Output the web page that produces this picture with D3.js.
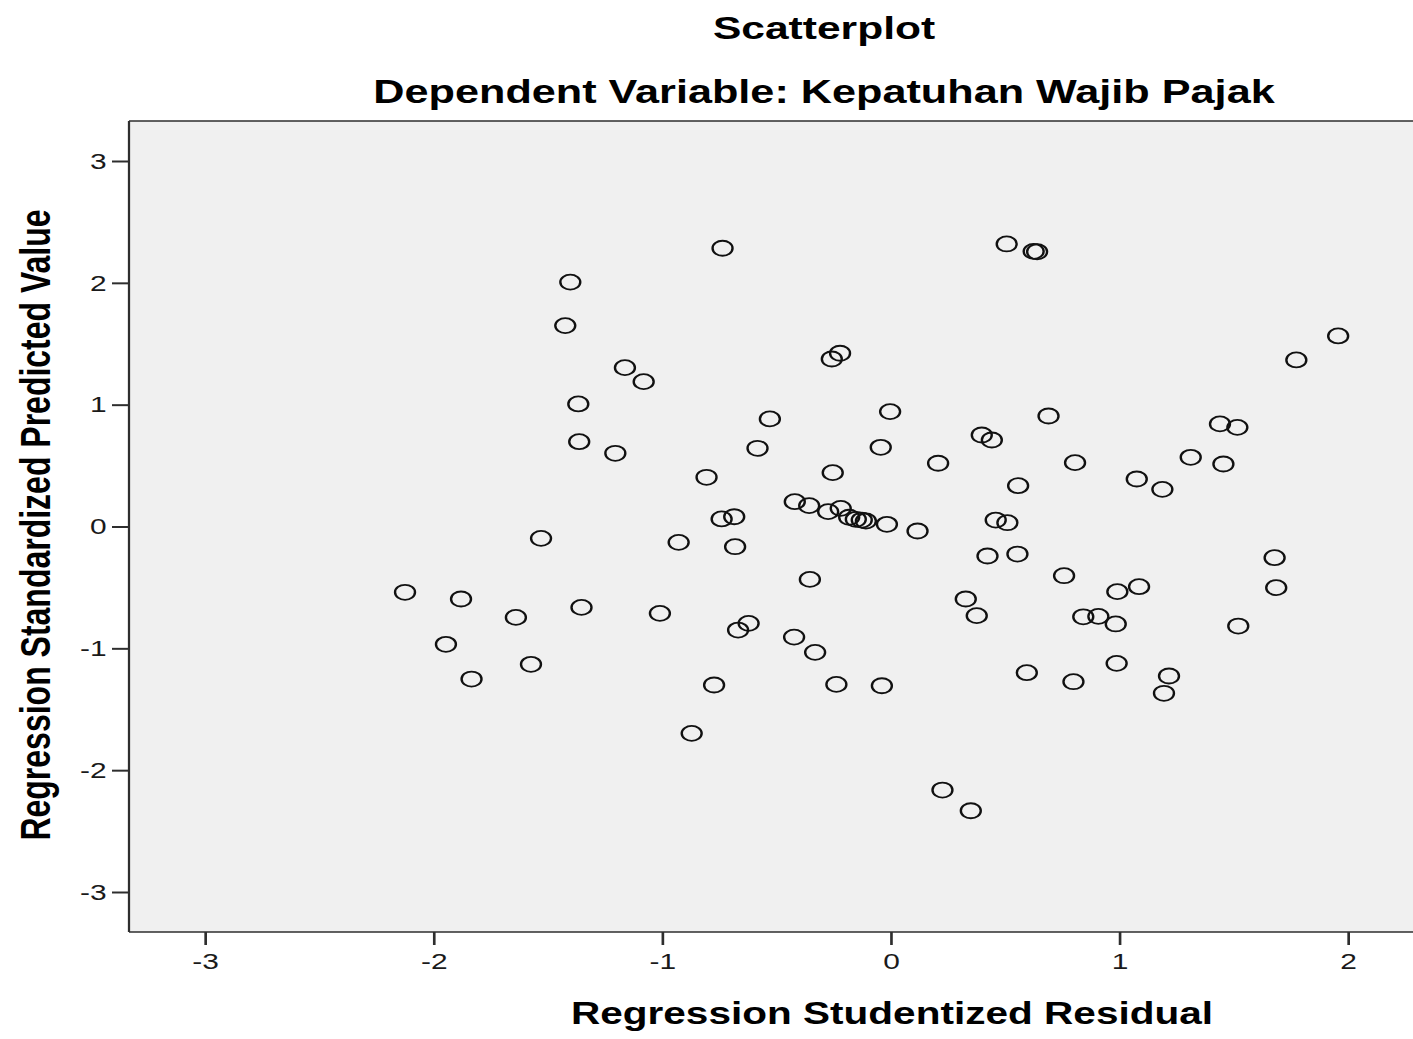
<!DOCTYPE html>
<html>
<head>
<meta charset="utf-8">
<script src="https://cdn.jsdelivr.net/npm/d3@7"></script>
<style>
  html, body { margin: 0; padding: 0; background: #fff; }
  svg { display: block; }
</style>
</head>
<body>
<svg id="chart" width="1413" height="1039"></svg>
<script>
// ---- data ----
const residuals = [
  -0.736, -1.402, -1.424, -1.163, -1.081, -1.367, -1.363, -1.205, -0.529, -0.583,
  -0.806, -0.258, -0.222, -0.003, -0.044, -0.254, 0.207, 0.398, 0.442, 0.690,
  0.806, 0.557, 1.076, -0.420, -0.357, -0.274, -0.219, -0.182, -0.153, -0.127,
  -0.109, -0.017, 0.117, -0.740, -0.685, -0.681, 0.459, 0.510, 0.423, 0.554,
  -0.354, 0.758, -2.125, -1.880, -1.640, -1.353, -1.530, -1.946, -1.834, -1.574,
  -1.010, -0.928, -0.668, -0.622, -0.773, -0.871, -0.423, -0.331, -0.238, -0.039,
  0.328, 0.376, 0.842, 0.908, 0.226, 0.350, 0.595, 0.799, 1.957, 1.774,
  1.440, 1.516, 1.312, 1.455, 1.188, 0.991, 1.086, 0.984, 1.679, 1.686,
  1.520, 0.988, 1.217, 1.195, 0.507, 0.625, 0.640
];
const predicted = [
  2.284, 2.006, 1.649, 1.304, 1.189, 1.006, 0.696, 0.601, 0.883, 0.642,
  0.404, 1.375, 1.422, 0.943, 0.650, 0.442, 0.519, 0.751, 0.710, 0.907,
  0.524, 0.335, 0.390, 0.204, 0.171, 0.122, 0.149, 0.076, 0.059, 0.053,
  0.045, 0.018, -0.037, 0.062, 0.080, -0.166, 0.053, 0.031, -0.242, -0.226,
  -0.434, -0.404, -0.540, -0.595, -0.746, -0.664, -0.097, -0.967, -1.252, -1.131,
  -0.713, -0.130, -0.850, -0.795, -1.301, -1.698, -0.908, -1.033, -1.296, -1.307,
  -0.595, -0.732, -0.741, -0.738, -2.163, -2.333, -1.200, -1.274, 1.564, 1.367,
  0.842, 0.814, 0.568, 0.513, 0.305, -0.535, -0.494, -0.800, -0.256, -0.502,
  -0.817, -1.123, -1.227, -1.369, 2.319, 2.258, 2.255
];
const xTicks = [-3, -2, -1, 0, 1, 2];
const yTicks = [-3, -2, -1, 0, 1, 2, 3];
const titleText = "Scatterplot";
const subtitleText = "Dependent Variable: Kepatuhan Wajib Pajak";
const xLabel = "Regression Studentized Residual";
const yLabel = "Regression Standardized Predicted Value";

// ---- layout ----
const sx = 1.33; // horizontal stretch of the original picture
const svg = d3.select("#chart");
const g = svg.append("g").attr("transform", `scale(${sx},1)`);

const frameLeft = 129 / sx, frameRight = 1425 / sx, frameTop = 121, frameBottom = 932;

const x = d3.scaleLinear().domain([-3, 2]).range([205 / sx, 1348 / sx]);
const y = d3.scaleLinear().domain([-3, 3]).range([892, 161]);

const font = "'Liberation Sans', Arial, sans-serif";

// plot background
g.append("rect")
  .attr("x", frameLeft).attr("y", frameTop)
  .attr("width", frameRight - frameLeft).attr("height", frameBottom - frameTop)
  .attr("fill", "#f0f0f0");

// frame lines
const frameColor = "#2e2e2e";
g.append("line").attr("x1", frameLeft).attr("x2", frameRight).attr("y1", frameTop).attr("y2", frameTop)
  .attr("stroke", frameColor).attr("stroke-width", 1.7);
g.append("line").attr("x1", frameLeft).attr("x2", frameRight).attr("y1", frameBottom).attr("y2", frameBottom)
  .attr("stroke", frameColor).attr("stroke-width", 1.7);
g.append("line").attr("x1", frameLeft).attr("x2", frameLeft).attr("y1", frameTop).attr("y2", frameBottom)
  .attr("stroke", frameColor).attr("stroke-width", 1.7);

// axes
const yAxis = g.append("g")
  .attr("transform", `translate(${frameLeft},0)`)
  .call(d3.axisLeft(y).tickValues(yTicks).tickSize(12.8).tickPadding(4).tickFormat(d => String(d)));
const xAxis = g.append("g")
  .attr("transform", `translate(0,${frameBottom})`)
  .call(d3.axisBottom(x).tickValues(xTicks).tickSize(13).tickPadding(8).tickFormat(d => String(d)));

[yAxis, xAxis].forEach(ax => {
  ax.select(".domain").remove();
  ax.selectAll(".tick line").attr("stroke", frameColor).attr("stroke-width", 2);
  ax.selectAll(".tick text")
    .attr("fill", "#1a1a1a")
    .style("font-family", font)
    .style("font-size", "22.5px");
});

// points
g.append("g").selectAll("circle")
  .data(residuals.map((r, i) => [r, predicted[i]]))
  .join("circle")
  .attr("cx", d => x(d[0]))
  .attr("cy", d => y(d[1]))
  .attr("r", 7.5)
  .attr("fill", "none")
  .attr("stroke", "#111")
  .attr("stroke-width", 1.8);

// titles
g.append("text")
  .attr("x", 824 / sx).attr("y", 39)
  .attr("text-anchor", "middle")
  .style("font-family", font).style("font-weight", "bold").style("font-size", "32px")
  .attr("fill", "#000")
  .text(titleText);
g.append("text")
  .attr("x", 824 / sx).attr("y", 103)
  .attr("text-anchor", "middle")
  .style("font-family", font).style("font-weight", "bold").style("font-size", "32.5px")
  .attr("fill", "#000")
  .text(subtitleText);

// axis titles
g.append("text")
  .attr("x", 892 / sx).attr("y", 1024)
  .attr("text-anchor", "middle")
  .style("font-family", font).style("font-weight", "bold").style("font-size", "30.5px")
  .attr("fill", "#000")
  .text(xLabel);
g.append("text")
  .attr("transform", `translate(${50 / sx},525) rotate(-90)`)
  .attr("text-anchor", "middle")
  .style("font-family", font).style("font-weight", "bold").style("font-size", "32px")
  .attr("fill", "#000")
  .text(yLabel);
</script>
</body>
</html>
